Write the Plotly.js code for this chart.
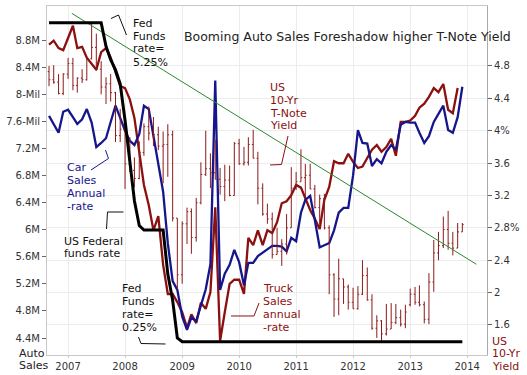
<!DOCTYPE html>
<html>
<head>
<meta charset="utf-8">
<script src="https://cdn.plot.ly/plotly-3.0.1.min.js"></script>
<style>html,body{margin:0;padding:0;background:#fff;}#chart{width:527px;height:375px;}</style>
</head>
<body>
<div id="chart"></div>
<script>
// ---- DATA (monthly, Sep 2006 - Dec 2013) ----
const months = ['2006-09','2006-10','2006-11','2006-12',
 '2007-01','2007-02','2007-03','2007-04','2007-05','2007-06','2007-07','2007-08','2007-09','2007-10','2007-11','2007-12',
 '2008-01','2008-02','2008-03','2008-04','2008-05','2008-06','2008-07','2008-08','2008-09','2008-10','2008-11','2008-12',
 '2009-01','2009-02','2009-03','2009-04','2009-05','2009-06','2009-07','2009-08','2009-09','2009-10','2009-11','2009-12',
 '2010-01','2010-02','2010-03','2010-04','2010-05','2010-06','2010-07','2010-08','2010-09','2010-10','2010-11','2010-12',
 '2011-01','2011-02','2011-03','2011-04','2011-05','2011-06','2011-07','2011-08','2011-09','2011-10','2011-11','2011-12',
 '2012-01','2012-02','2012-03','2012-04','2012-05','2012-06','2012-07','2012-08','2012-09','2012-10','2012-11','2012-12',
 '2013-01','2013-02','2013-03','2013-04','2013-05','2013-06','2013-07','2013-08','2013-09','2013-10','2013-11','2013-12'];

// Car sales, annual rate (millions)
const carSales = [7.68,7.56,7.43,7.74,7.77,7.66,7.56,7.63,7.78,7.58,7.22,7.28,7.35,7.59,7.83,7.65,
 7.46,7.31,7.25,7.41,7.83,7.78,7.38,6.94,6.56,5.80,5.24,5.11,
 4.72,4.52,4.70,4.65,4.90,5.12,5.49,8.20,5.11,5.35,5.48,5.70,
 5.52,5.18,5.51,5.51,5.61,5.66,5.70,5.76,5.76,5.75,5.68,5.88,
 5.83,6.25,6.44,6.50,6.14,5.74,5.77,5.80,5.99,6.25,6.32,6.32,
 6.80,7.47,7.28,7.27,6.94,7.04,6.98,7.15,7.25,7.18,7.55,7.59,
 7.58,7.58,7.43,7.28,7.38,7.59,7.71,7.83,7.47,7.43,7.66,8.11];

// Truck sales, annual rate (millions) - ends Nov 2013
const truckSales = [8.73,8.79,8.68,8.65,8.83,9.01,8.68,8.70,8.54,8.45,8.36,8.62,8.68,8.54,8.33,8.12,
 8.09,7.92,7.65,7.18,6.66,6.36,5.99,6.20,5.48,5.05,5.05,4.93,
 4.78,4.55,4.75,4.62,4.92,4.83,5.08,6.33,4.36,4.78,5.20,5.26,
 5.26,5.05,5.88,5.77,5.99,5.77,5.99,5.95,6.11,6.39,6.42,6.51,
 6.66,6.62,6.47,6.29,6.16,6.01,6.44,6.63,7.01,6.98,6.98,7.12,
 7.00,6.91,6.93,7.06,7.18,7.25,7.15,7.22,7.34,7.09,7.59,7.59,
 7.61,7.68,7.80,7.86,7.96,8.09,8.03,8.15,7.77,7.72,8.09];

// US Federal funds rate (%)
const fedFunds = [5.25,5.25,5.25,5.25,5.25,5.25,5.25,5.25,5.25,5.25,5.25,5.25,4.88,4.67,4.51,4.29,
 3.72,3.10,2.46,2.07,2.00,2.00,2.00,2.00,2.00,1.31,0.90,0.31,
 0.25,0.25,0.25,0.25,0.25,0.25,0.25,0.25,0.25,0.25,0.25,0.25,
 0.25,0.25,0.25,0.25,0.25,0.25,0.25,0.25,0.25,0.25,0.25,0.25,
 0.25,0.25,0.25,0.25,0.25,0.25,0.25,0.25,0.25,0.25,0.25,0.25,
 0.25,0.25,0.25,0.25,0.25,0.25,0.25,0.25,0.25,0.25,0.25,0.25,
 0.25,0.25,0.25,0.25,0.25,0.25,0.25,0.25,0.25,0.25,0.25,0.25];

// US 10-Yr T-Note yield, monthly OHLC (%)
const yOpen = [4.73,4.63,4.60,4.46,4.70,4.83,4.56,4.65,4.63,4.89,
 5.03,4.76,4.54,4.58,4.47,3.94,4.02,3.59,3.51,3.41,
 3.73,4.05,3.97,3.95,3.81,3.83,3.95,2.92,2.22,2.85,
 3.00,2.68,3.11,3.46,3.53,3.48,3.40,3.31,3.39,3.20,
 3.84,3.59,3.61,3.83,3.66,3.29,2.97,2.91,2.47,2.51,
 2.60,2.80,3.29,3.37,3.42,3.45,3.28,3.05,3.16,2.80,
 2.22,1.92,2.17,2.07,1.88,1.80,1.98,2.21,1.91,1.56,
 1.65,1.49,1.55,1.63,1.69,1.61,1.85,1.98,1.88,1.85,
 1.67,2.13,2.49,2.58,2.78,2.61,2.55,2.75];
const yHigh = [4.80,4.81,4.70,4.71,4.90,4.90,4.66,4.76,4.90,5.32,
 5.20,4.86,4.66,4.70,4.48,4.27,4.06,3.92,3.67,3.87,
 4.09,4.30,4.17,4.05,3.99,4.08,4.00,2.92,2.88,3.05,
 3.04,3.17,3.61,4.00,3.72,3.89,3.54,3.58,3.57,3.86,
 3.90,3.80,3.92,4.01,3.74,3.35,3.10,2.99,2.80,2.66,
 2.97,3.55,3.49,3.77,3.59,3.59,3.33,3.21,3.22,2.83,
 2.24,2.42,2.17,2.10,2.06,2.08,2.40,2.31,1.98,1.72,
 1.66,1.86,1.87,1.86,1.79,1.85,2.05,2.07,2.09,1.89,
 2.24,2.65,2.75,2.94,3.01,2.75,2.86,2.86];
const yLow = [4.55,4.58,4.45,4.44,4.64,4.50,4.47,4.59,4.62,4.88,
 4.74,4.45,4.33,4.36,3.86,3.86,3.28,3.49,3.30,3.40,
 3.69,3.88,3.81,3.76,3.35,3.43,2.88,2.04,2.11,2.60,
 2.48,2.63,3.09,3.44,3.29,3.40,3.21,3.13,3.19,3.20,
 3.58,3.57,3.57,3.66,3.09,2.95,2.85,2.42,2.47,2.33,
 2.47,2.80,3.27,3.37,3.17,3.28,3.04,2.85,2.78,1.98,
 1.70,1.72,1.86,1.79,1.80,1.79,1.97,1.90,1.54,1.44,
 1.39,1.47,1.55,1.61,1.58,1.56,1.83,1.85,1.83,1.62,
 1.61,2.01,2.40,2.55,2.53,2.46,2.55,2.75];
const yClose = [4.63,4.60,4.46,4.70,4.83,4.56,4.65,4.63,4.89,5.03,
 4.76,4.54,4.58,4.47,3.94,4.02,3.59,3.51,3.41,3.73,
 4.05,3.97,3.95,3.81,3.83,3.95,2.92,2.22,2.85,3.00,
 2.68,3.11,3.46,3.53,3.48,3.40,3.31,3.39,3.20,3.84,
 3.59,3.61,3.83,3.66,3.29,2.97,2.91,2.47,2.51,2.60,
 2.80,3.29,3.37,3.42,3.45,3.28,3.05,3.16,2.80,2.22,
 1.92,2.17,2.07,1.88,1.80,1.98,2.21,1.91,1.56,1.65,
 1.49,1.55,1.63,1.69,1.61,1.76,1.98,1.88,1.85,1.67,
 2.13,2.49,2.58,2.78,2.61,2.55,2.75,2.84];

// Downward trend line on the yield scale
const trendDates = ['2007-01-25','2014-03-01'];
const trendYield = [5.45, 2.35];

// Axis tick labels
const leftTickVals = [4.4,4.8,5.2,5.6,6,6.4,6.8,7.2,7.6,8,8.4,8.8];
const leftTickText = ['4.4M','4.8M','5.2M','5.6M','6M','6.4M','6.8M','7.2M','7.6-Mil','8-Mil','8.4M','8.8M'];
const rightTickVals = [1.6,2,2.4,2.8,3.2,3.6,4,4.4,4.8];
const rightTickText = ['1.6','2','2.4','2.8%','3.2','3.6','4%','4.4','4.8'];

// ---- LAYOUT HELPERS ----
const W=527, H=375, ML=47, MR=40, MT=6, MB=20;
const PW = W-ML-MR, PH = H-MT-MB;
const fx = x => (x-ML)/PW;
const fy = y => (H-MB-y)/PH;
const FONT = 'DejaVu Sans, Verdana, sans-serif';
const RED = '#8b1010', BLUE = '#16168c', BARRED = '#8b1a1a';

const annotations = [];
function label(lines, x, y0, color, dy, size){
  lines.forEach((t,k)=>{
    annotations.push({xref:'paper', yref:'paper', x:fx(x-2), y:fy(y0+k*(dy||13)),
      xanchor:'left', yanchor:'middle', text:t, showarrow:false,
      font:{family:FONT, size:size||11, color:color}});
  });
}
label(['Booming Auto Sales Foreshadow higher T-Note Yield'], 184, 36, '#222', 13, 12.5);
label(['Fed','Funds','rate=','5.25%'], 133, 23, '#111');
label(['Car','Sales','Annual','-rate'], 66.5, 167, BLUE);
label(['US Federal','funds rate'], 63.5, 241, '#111', 12.5);
label(['Fed','Funds','rate=','0.25%'], 122, 288, '#111');
label(['US','10-Yr','T-Note','Yield'], 270, 87, RED);
label(['Truck','Sales','annual','-rate'], 262.5, 288, RED);
label(['US','10-Yr','Yield'], 491.5, 341, RED, 12.5);
label(['Auto','Sales'], 19, 353, '#222', 12);

function leader(pts, color){
  const d = pts.map((p,k)=>(k?'L':'M')+fx(p[0]).toFixed(5)+','+fy(p[1]).toFixed(5)).join(' ');
  return {type:'path', xref:'paper', yref:'paper', path:d, line:{color:color, width:1}};
}
const shapes = [
  leader([[111,18.5],[118.5,15],[126.5,35]], '#111'),
  leader([[91,170],[108.5,158.5],[105.5,150]], BLUE),
  leader([[106.5,229],[107.5,212],[123.5,212]], '#111'),
  leader([[138.5,337],[141,343.5],[165.5,344]], '#111'),
  leader([[288,136],[281.5,164.5],[270,165]], RED),
  leader([[259,303],[254,316],[231,316]], RED)
];

// ---- TRACES ----
const traces = [
  {type:'ohlc', x:months, open:yOpen, high:yHigh, low:yLow, close:yClose,
   xaxis:'x', yaxis:'y2', tickwidth:0.3,
   increasing:{line:{color:BARRED, width:1}}, decreasing:{line:{color:BARRED, width:1}},
   hoverinfo:'skip', showlegend:false},
  {type:'scatter', mode:'lines', x:trendDates, y:trendYield, yaxis:'y2',
   line:{color:'#2a8a2a', width:1}, hoverinfo:'skip', showlegend:false},
  {type:'scatter', mode:'lines', x:months.slice(0,truckSales.length), y:truckSales, yaxis:'y',
   line:{color:RED, width:2.3}, hoverinfo:'skip', showlegend:false},
  {type:'scatter', mode:'lines', x:months, y:carSales, yaxis:'y',
   line:{color:BLUE, width:2.3}, hoverinfo:'skip', showlegend:false},
  {type:'scatter', mode:'lines', x:months, y:fedFunds, yaxis:'y3',
   line:{color:'#000', width:3}, hoverinfo:'skip', showlegend:false}
];

const layout = {
  width:W, height:H, margin:{l:ML, r:MR, t:MT, b:MB, pad:0},
  paper_bgcolor:'#fff', plot_bgcolor:'#fff', showlegend:false,
  font:{family:FONT, size:10, color:'#333'},
  xaxis:{type:'date', range:['2006-08-19','2014-05-08'], rangeslider:{visible:false},
    tick0:'2007-01-01', dtick:'M12', tickformat:'%Y', ticks:'outside', ticklen:2, tickcolor:'#ccc',
    showgrid:true, gridcolor:'#ececec', gridwidth:1, zeroline:false,
    showline:true, linecolor:'#c8c8c8', linewidth:1, mirror:true,
    tickfont:{family:FONT, size:10, color:'#333'}},
  yaxis:{range:[4.149, 9.302], tickmode:'array', tickvals:leftTickVals, ticktext:leftTickText,
    ticks:'outside', ticklen:4, tickcolor:'#666', showgrid:false, zeroline:false,
    showline:true, linecolor:'#c8c8c8', linewidth:1,
    tickfont:{family:FONT, size:10, color:'#333'}},
  yaxis2:{range:[1.229, 5.541], overlaying:'y', side:'right', tickmode:'array',
    tickvals:rightTickVals, ticktext:rightTickText, ticks:'outside', ticklen:4, tickcolor:'#666',
    showgrid:true, gridcolor:'#ececec', zeroline:false, showline:true, linecolor:'#aaa', linewidth:1,
    tickfont:{family:FONT, size:10, color:'#333'}},
  yaxis3:{range:[0.0415, 5.512], overlaying:'y', visible:false},
  annotations:annotations, shapes:shapes
};

Plotly.newPlot('chart', traces, layout, {staticPlot:true, displayModeBar:false});
</script>
</body>
</html>
